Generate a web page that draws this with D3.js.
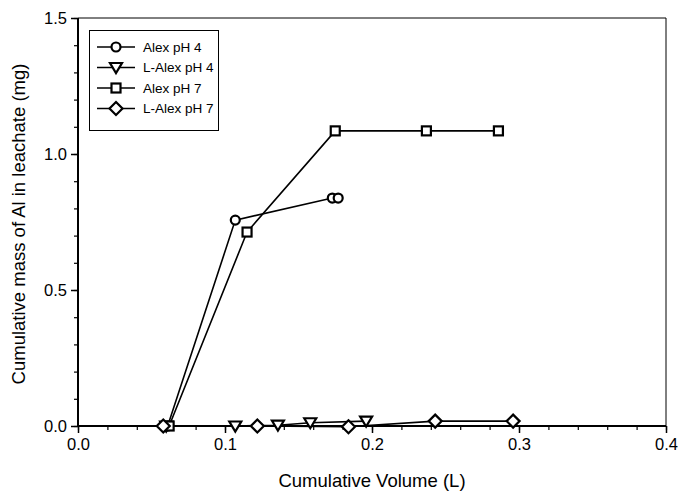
<!DOCTYPE html>
<html lang="en">
<head>
<meta charset="UTF-8">
<title>Cumulative mass of Al in leachate</title>
<script src="https://d3js.org/d3.v7.min.js"></script>
<style>
  body { margin: 0; padding: 0; background: #fff; }
  svg { display: block; font-family: Arial, "Liberation Sans", sans-serif; }
</style>
</head>
<body>
<svg id="chart" width="678" height="492"></svg>
<script>
// Data: cumulative volume (L) vs cumulative Al mass (mg)
const alexPh4X = [0.061, 0.107, 0.173, 0.177];
const alexPh4Y = [0.0, 0.757, 0.838, 0.838];

const lAlexPh4X = [0.060, 0.107, 0.136, 0.158, 0.196];
const lAlexPh4Y = [0.0, 0.0, 0.003, 0.012, 0.018];

const alexPh7X = [0.062, 0.115, 0.175, 0.237, 0.286];
const alexPh7Y = [0.0, 0.713, 1.085, 1.085, 1.085];

const lAlexPh7X = [0.058, 0.122, 0.184, 0.243, 0.296];
const lAlexPh7Y = [0.0, 0.0, -0.003, 0.018, 0.018];

const seriesNames = ["Alex pH 4", "L-Alex pH 4", "Alex pH 7", "L-Alex pH 7"];
const xTicks = [0.0, 0.1, 0.2, 0.3, 0.4];
const yTicks = [0.0, 0.5, 1.0, 1.5];

const series = [
  { name: seriesNames[0], symbol: "circle", xs: alexPh4X, ys: alexPh4Y },
  { name: seriesNames[1], symbol: "tri", xs: lAlexPh4X, ys: lAlexPh4Y },
  { name: seriesNames[2], symbol: "square", xs: alexPh7X, ys: alexPh7Y },
  { name: seriesNames[3], symbol: "diamond", xs: lAlexPh7X, ys: lAlexPh7Y }
].map(s => ({ ...s, pts: s.xs.map((x, i) => ({ x: x, y: s.ys[i] })) }));

const margin = { left: 78, top: 18, right: 12, bottom: 66 };
const W = 678, H = 492;
const svg = d3.select("#chart");

const x = d3.scaleLinear().domain([0, 0.4]).range([margin.left, W - margin.right]);
const y = d3.scaleLinear().domain([0, 1.5]).range([H - margin.bottom, margin.top]);

// minor ticks
const xMinor = d3.range(0, 0.4001, 0.02);
const yMinor = d3.range(0, 1.5001, 0.1);

svg.append("g")
  .attr("transform", `translate(0,${y(0)})`)
  .call(d3.axisBottom(x).tickValues(xMinor).tickSize(4).tickFormat(""))
  .call(g => g.select(".domain").remove())
  .selectAll("line").attr("stroke", "#000").attr("stroke-width", 1.2);

svg.append("g")
  .attr("transform", `translate(${x(0)},0)`)
  .call(d3.axisLeft(y).tickValues(yMinor).tickSize(4).tickFormat(""))
  .call(g => g.select(".domain").remove())
  .selectAll("line").attr("stroke", "#000").attr("stroke-width", 1.2);

// major ticks + labels
const xAxis = svg.append("g")
  .attr("transform", `translate(0,${y(0)})`)
  .call(d3.axisBottom(x).tickValues(xTicks).tickSize(7).tickPadding(5).tickFormat(d3.format(".1f")));
xAxis.select(".domain").remove();
xAxis.selectAll("line").attr("stroke", "#000").attr("stroke-width", 1.5);
xAxis.selectAll("text").attr("font-size", 16.5).attr("fill", "#000");

const yAxis = svg.append("g")
  .attr("transform", `translate(${x(0)},0)`)
  .call(d3.axisLeft(y).tickValues(yTicks).tickSize(7).tickPadding(4).tickFormat(d3.format(".1f")));
yAxis.select(".domain").remove();
yAxis.selectAll("line").attr("stroke", "#000").attr("stroke-width", 1.5);
yAxis.selectAll("text").attr("font-size", 16.5).attr("fill", "#000");

// frame
svg.append("line").attr("x1", x(0)).attr("x2", x(0.4)).attr("y1", y(1.5)).attr("y2", y(1.5))
  .attr("stroke", "#000").attr("stroke-width", 1);
svg.append("line").attr("x1", x(0.4)).attr("x2", x(0.4)).attr("y1", y(0)).attr("y2", y(1.5))
  .attr("stroke", "#000").attr("stroke-width", 1);
svg.append("line").attr("x1", x(0)).attr("x2", x(0.4)).attr("y1", y(0)).attr("y2", y(0))
  .attr("stroke", "#000").attr("stroke-width", 2);
svg.append("line").attr("x1", x(0)).attr("x2", x(0)).attr("y1", y(0)).attr("y2", y(1.5))
  .attr("stroke", "#000").attr("stroke-width", 2);

// axis titles
svg.append("text")
  .attr("x", (x(0) + x(0.4)) / 2).attr("y", 487)
  .attr("text-anchor", "middle").attr("font-size", 18.5).attr("fill", "#000")
  .text("Cumulative Volume (L)");
svg.append("text")
  .attr("transform", `translate(25,${(y(0) + y(1.5)) / 2 + 2}) rotate(-90)`)
  .attr("text-anchor", "middle").attr("font-size", 18.5).attr("fill", "#000")
  .text("Cumulative mass of Al in leachate (mg)");

// marker drawing
function drawMarker(g, symbol, cx, cy) {
  const st = { fill: "#fff", stroke: "#000", "stroke-width": 2.2 };
  let m;
  if (symbol === "circle") {
    m = g.append("circle").attr("cx", cx).attr("cy", cy).attr("r", 4.5);
  } else if (symbol === "square") {
    m = g.append("rect").attr("x", cx - 4.5).attr("y", cy - 4.5).attr("width", 9).attr("height", 9);
  } else if (symbol === "tri") {
    m = g.append("path").attr("d", `M${cx - 6},${cy - 4.5}L${cx + 6},${cy - 4.5}L${cx},${cy + 5.5}Z`);
  } else {
    m = g.append("path").attr("d", `M${cx},${cy - 6.5}L${cx + 6.5},${cy}L${cx},${cy + 6.5}L${cx - 6.5},${cy}Z`);
  }
  Object.entries(st).forEach(([k, v]) => m.attr(k, v));
}

const line = d3.line().x(d => x(d.x)).y(d => y(d.y));
const plot = svg.append("g");
series.forEach(s => {
  plot.append("path").datum(s.pts)
    .attr("d", line).attr("fill", "none").attr("stroke", "#000").attr("stroke-width", 1.6);
});
series.forEach(s => {
  const g = plot.append("g");
  s.pts.forEach(p => drawMarker(g, s.symbol, x(p.x), y(p.y)));
});

// legend
const lg = svg.append("g");
lg.append("rect").attr("x", 89.5).attr("y", 30.5).attr("width", 129).attr("height", 100)
  .attr("fill", "#fff").attr("stroke", "#000").attr("stroke-width", 1);
series.forEach((s, i) => {
  const ly = 47 + i * 20.5;
  lg.append("line").attr("x1", 97).attr("x2", 135).attr("y1", ly).attr("y2", ly)
    .attr("stroke", "#000").attr("stroke-width", 1.6);
  drawMarker(lg, s.symbol, 116, ly);
  lg.append("text").attr("x", 143).attr("y", ly).attr("dy", "0.35em")
    .attr("font-size", 13.5).attr("fill", "#000").text(s.name);
});
</script>
</body>
</html>
